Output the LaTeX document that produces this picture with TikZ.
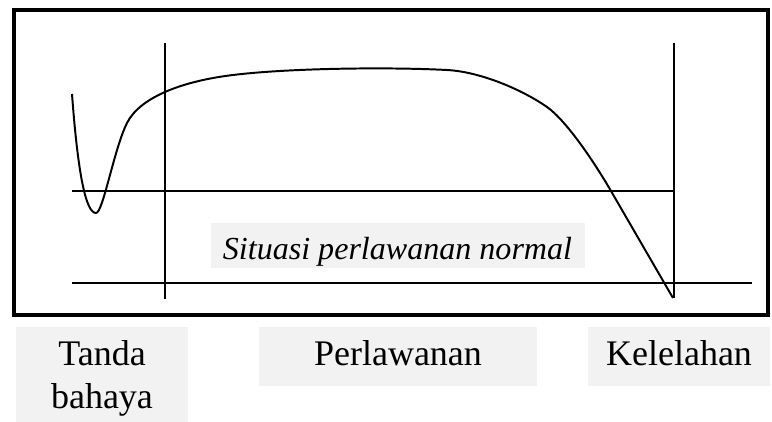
\documentclass[tikz,border=0pt]{standalone}
\usepackage{fontspec}
\setmainfont{Liberation Serif}
\begin{document}
\begin{tikzpicture}[x=0.025cm, y=-0.025cm,
        line/.style={line width=1.4pt},
        greybox/.style={fill=black!5, inner sep=0pt, anchor=north west},
        phase/.style={font=\fontsize{25.6}{31}\selectfont, inner sep=0pt, anchor=base}]
    \useasboundingbox (0, 0) rectangle (772, 422);

    % outer frame
    \draw[line width=2.6pt](14, 10) rectangle (768, 315);

    % phase borders and levels
    \draw[line](165, 43) to (165, 299);
    \draw[line](674, 43) to (674, 298);
    \draw[line](72, 191) to (674, 191);
    \draw[line](72, 283) to (752, 283);

    \node[greybox, minimum width=9.35cm, minimum height=1.125cm] (normalbox) at (211, 223) {};
    \node[font=\fontsize{22.8}{27}\selectfont\itshape, inner sep=0pt, anchor=base]
        (normal) at (397.5, 259) {Situasi perlawanan normal};

    % resistance curve: alarm dip, plateau, then collapse
    \draw[line, line join=round](72, 94)
        .. controls (78, 175) and (86, 213) .. (96, 213)
        .. controls (103, 213) and (114, 149) .. (127, 123)
        .. controls (140, 97) and (183, 81) .. (233, 75)
        .. controls (290, 68) and (390, 67) .. (447, 70)
        .. controls (480, 71.7) and (522, 89.5) .. (547, 107)
        .. controls (567, 121) and (596, 165) .. (611, 191)
        -- (673, 298);

    % phase names under the frame
    \node[greybox, minimum width=4.3cm, minimum height=2.375cm] (tandabox) at (16, 327) {};
    \node[greybox, minimum width=6.95cm, minimum height=1.475cm] (lawanbox) at (259, 327) {};
    \node[greybox, minimum width=4.55cm, minimum height=1.475cm] (lelahbox) at (588, 327) {};

    \node[phase] (tanda) at (102, 365) {Tanda};
    \node[phase] (bahaya) at (102, 408) {bahaya};
    \node[phase] (lawan) at (398, 365) {Perlawanan};
    \node[phase] (lelah) at (679, 365) {Kelelahan};
\end{tikzpicture}
\end{document}
